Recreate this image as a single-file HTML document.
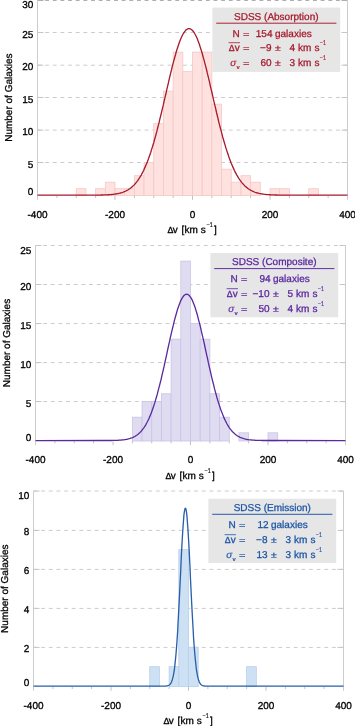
<!DOCTYPE html>
<html><head><meta charset="utf-8"><title>SDSS velocity offsets</title>
<style>html,body{margin:0;padding:0;background:#fff;}body{width:355px;height:726px;overflow:hidden;font-family:"Liberation Sans", sans-serif;}svg{display:block;will-change:transform;}</style>
</head><body>
<svg width="355" height="726" viewBox="0 0 355 726" font-family='"Liberation Sans", sans-serif' font-size="10" text-rendering="geometricPrecision">
<rect width="355" height="726" fill="#fff"/>
<g>
<line x1="37.50" y1="162.50" x2="347.50" y2="162.50" stroke="#cbcbcb" stroke-width="1" stroke-dasharray="3.827 3.827"/>
<line x1="37.50" y1="162.50" x2="43.50" y2="162.50" stroke="#c6c6c6" stroke-width="1"/>
<line x1="341.50" y1="162.50" x2="347.50" y2="162.50" stroke="#c6c6c6" stroke-width="1"/>
<line x1="37.50" y1="130.10" x2="347.50" y2="130.10" stroke="#cbcbcb" stroke-width="1" stroke-dasharray="3.827 3.827"/>
<line x1="37.50" y1="130.10" x2="43.50" y2="130.10" stroke="#c6c6c6" stroke-width="1"/>
<line x1="341.50" y1="130.10" x2="347.50" y2="130.10" stroke="#c6c6c6" stroke-width="1"/>
<line x1="37.50" y1="97.50" x2="347.50" y2="97.50" stroke="#cbcbcb" stroke-width="1" stroke-dasharray="3.827 3.827"/>
<line x1="37.50" y1="97.50" x2="43.50" y2="97.50" stroke="#c6c6c6" stroke-width="1"/>
<line x1="341.50" y1="97.50" x2="347.50" y2="97.50" stroke="#c6c6c6" stroke-width="1"/>
<line x1="37.50" y1="65.20" x2="347.50" y2="65.20" stroke="#cbcbcb" stroke-width="1" stroke-dasharray="3.827 3.827"/>
<line x1="37.50" y1="65.20" x2="43.50" y2="65.20" stroke="#c6c6c6" stroke-width="1"/>
<line x1="341.50" y1="65.20" x2="347.50" y2="65.20" stroke="#c6c6c6" stroke-width="1"/>
<line x1="37.50" y1="32.50" x2="347.50" y2="32.50" stroke="#cbcbcb" stroke-width="1" stroke-dasharray="3.827 3.827"/>
<line x1="37.50" y1="32.50" x2="43.50" y2="32.50" stroke="#c6c6c6" stroke-width="1"/>
<line x1="341.50" y1="32.50" x2="347.50" y2="32.50" stroke="#c6c6c6" stroke-width="1"/>
<line x1="37.50" y1="0.50" x2="347.50" y2="0.50" stroke="#aeaeae" stroke-width="1" stroke-dasharray="3.827 3.827"/>
<line x1="37.50" y1="0.50" x2="43.50" y2="0.50" stroke="#aeaeae" stroke-width="1"/>
<line x1="341.50" y1="0.50" x2="347.50" y2="0.50" stroke="#aeaeae" stroke-width="1"/>
<rect x="76.25" y="188.70" width="9.69" height="6.90" fill="#fee2df" stroke="#f7c6c6" stroke-width="0.8"/>
<rect x="95.62" y="188.70" width="9.69" height="6.90" fill="#fee2df" stroke="#f7c6c6" stroke-width="0.8"/>
<rect x="105.31" y="182.19" width="9.69" height="13.41" fill="#fee2df" stroke="#f7c6c6" stroke-width="0.8"/>
<rect x="115.00" y="188.70" width="9.69" height="6.90" fill="#fee2df" stroke="#f7c6c6" stroke-width="0.8"/>
<rect x="124.69" y="188.70" width="9.69" height="6.90" fill="#fee2df" stroke="#f7c6c6" stroke-width="0.8"/>
<rect x="134.38" y="175.69" width="9.69" height="19.91" fill="#fee2df" stroke="#f7c6c6" stroke-width="0.8"/>
<rect x="144.06" y="162.68" width="9.69" height="32.92" fill="#fee2df" stroke="#f7c6c6" stroke-width="0.8"/>
<rect x="153.75" y="123.66" width="9.69" height="71.94" fill="#fee2df" stroke="#f7c6c6" stroke-width="0.8"/>
<rect x="163.44" y="91.15" width="9.69" height="104.45" fill="#fee2df" stroke="#f7c6c6" stroke-width="0.8"/>
<rect x="173.12" y="52.13" width="9.69" height="143.47" fill="#fee2df" stroke="#f7c6c6" stroke-width="0.8"/>
<rect x="182.81" y="71.64" width="9.69" height="123.96" fill="#fee2df" stroke="#f7c6c6" stroke-width="0.8"/>
<rect x="192.50" y="52.13" width="9.69" height="143.47" fill="#fee2df" stroke="#f7c6c6" stroke-width="0.8"/>
<rect x="202.19" y="52.13" width="9.69" height="143.47" fill="#fee2df" stroke="#f7c6c6" stroke-width="0.8"/>
<rect x="211.88" y="104.15" width="9.69" height="91.45" fill="#fee2df" stroke="#f7c6c6" stroke-width="0.8"/>
<rect x="221.56" y="169.19" width="9.69" height="26.41" fill="#fee2df" stroke="#f7c6c6" stroke-width="0.8"/>
<rect x="231.25" y="182.19" width="9.69" height="13.41" fill="#fee2df" stroke="#f7c6c6" stroke-width="0.8"/>
<rect x="240.94" y="175.69" width="9.69" height="19.91" fill="#fee2df" stroke="#f7c6c6" stroke-width="0.8"/>
<rect x="250.62" y="182.19" width="9.69" height="13.41" fill="#fee2df" stroke="#f7c6c6" stroke-width="0.8"/>
<rect x="270.00" y="188.70" width="9.69" height="6.90" fill="#fee2df" stroke="#f7c6c6" stroke-width="0.8"/>
<rect x="279.69" y="188.70" width="9.69" height="6.90" fill="#fee2df" stroke="#f7c6c6" stroke-width="0.8"/>
<rect x="308.75" y="188.70" width="9.69" height="6.90" fill="#fee2df" stroke="#f7c6c6" stroke-width="0.8"/>
<g stroke="#cccccc" stroke-width="1">
<line x1="37.50" y1="0.10" x2="37.50" y2="199.80"/>
<line x1="347.50" y1="0.10" x2="347.50" y2="199.80"/>
<line x1="56.88" y1="195.80" x2="56.88" y2="198.00" stroke="#b2b2b2" stroke-width="0.8"/>
<line x1="76.25" y1="195.80" x2="76.25" y2="198.00" stroke="#b2b2b2" stroke-width="0.8"/>
<line x1="95.62" y1="195.80" x2="95.62" y2="198.00" stroke="#b2b2b2" stroke-width="0.8"/>
<line x1="115.00" y1="195.80" x2="115.00" y2="199.80" stroke="#b2b2b2" stroke-width="0.8"/>
<line x1="134.38" y1="195.80" x2="134.38" y2="198.00" stroke="#b2b2b2" stroke-width="0.8"/>
<line x1="153.75" y1="195.80" x2="153.75" y2="198.00" stroke="#b2b2b2" stroke-width="0.8"/>
<line x1="173.12" y1="195.80" x2="173.12" y2="198.00" stroke="#b2b2b2" stroke-width="0.8"/>
<line x1="192.50" y1="195.80" x2="192.50" y2="199.80" stroke="#b2b2b2" stroke-width="0.8"/>
<line x1="211.88" y1="195.80" x2="211.88" y2="198.00" stroke="#b2b2b2" stroke-width="0.8"/>
<line x1="231.25" y1="195.80" x2="231.25" y2="198.00" stroke="#b2b2b2" stroke-width="0.8"/>
<line x1="250.62" y1="195.80" x2="250.62" y2="198.00" stroke="#b2b2b2" stroke-width="0.8"/>
<line x1="270.00" y1="195.80" x2="270.00" y2="199.80" stroke="#b2b2b2" stroke-width="0.8"/>
<line x1="289.38" y1="195.80" x2="289.38" y2="198.00" stroke="#b2b2b2" stroke-width="0.8"/>
<line x1="308.75" y1="195.80" x2="308.75" y2="198.00" stroke="#b2b2b2" stroke-width="0.8"/>
<line x1="328.12" y1="195.80" x2="328.12" y2="198.00" stroke="#b2b2b2" stroke-width="0.8"/>
</g>
<polyline points="37.5,195.15 87.9,195.14 88.7,195.14 89.4,195.13 90.2,195.13 91.0,195.13 91.8,195.12 92.5,195.12 93.3,195.12 94.1,195.11 94.8,195.10 95.6,195.10 96.4,195.09 97.2,195.08 98.0,195.07 98.7,195.06 99.5,195.05 100.3,195.04 101.1,195.02 101.8,195.00 102.6,194.98 103.4,194.96 104.2,194.94 104.9,194.91 105.7,194.88 106.5,194.84 107.2,194.81 108.0,194.76 108.8,194.72 109.6,194.66 110.4,194.61 111.1,194.54 111.9,194.47 112.7,194.39 113.5,194.30 114.2,194.21 115.0,194.10 115.8,193.98 116.5,193.86 117.3,193.71 118.1,193.56 118.9,193.39 119.7,193.21 120.4,193.00 121.2,192.78 122.0,192.54 122.8,192.28 123.5,192.00 124.3,191.69 125.1,191.36 125.9,190.99 126.6,190.60 127.4,190.18 128.2,189.72 128.9,189.23 129.7,188.70 130.5,188.13 131.3,187.53 132.1,186.87 132.8,186.17 133.6,185.42 134.4,184.63 135.2,183.78 135.9,182.87 136.7,181.91 137.5,180.88 138.2,179.80 139.0,178.65 139.8,177.43 140.6,176.14 141.4,174.79 142.1,173.36 142.9,171.86 143.7,170.28 144.4,168.63 145.2,166.89 146.0,165.08 146.8,163.18 147.6,161.21 148.3,159.15 149.1,157.01 149.9,154.78 150.7,152.48 151.4,150.09 152.2,147.62 153.0,145.07 153.8,142.44 154.5,139.74 155.3,136.97 156.1,134.12 156.9,131.20 157.6,128.22 158.4,125.18 159.2,122.08 159.9,118.93 160.7,115.73 161.5,112.49 162.3,109.21 163.1,105.90 163.8,102.57 164.6,99.22 165.4,95.86 166.2,92.49 166.9,89.13 167.7,85.78 168.5,82.45 169.2,79.15 170.0,75.88 170.8,72.66 171.6,69.49 172.3,66.38 173.1,63.34 173.9,60.37 174.7,57.50 175.5,54.72 176.2,52.04 177.0,49.47 177.8,47.03 178.6,44.70 179.3,42.51 180.1,40.47 180.9,38.56 181.7,36.81 182.4,35.22 183.2,33.79 184.0,32.53 184.8,31.45 185.5,30.53 186.3,29.80 187.1,29.25 187.8,28.88 188.6,28.70 189.4,28.70 190.2,28.88 191.0,29.25 191.7,29.80 192.5,30.53 193.3,31.45 194.1,32.53 194.8,33.79 195.6,35.22 196.4,36.81 197.2,38.56 197.9,40.47 198.7,42.51 199.5,44.70 200.2,47.03 201.0,49.47 201.8,52.04 202.6,54.72 203.3,57.50 204.1,60.37 204.9,63.34 205.7,66.38 206.5,69.49 207.2,72.66 208.0,75.88 208.8,79.15 209.6,82.45 210.3,85.78 211.1,89.13 211.9,92.49 212.7,95.86 213.4,99.22 214.2,102.57 215.0,105.90 215.8,109.21 216.5,112.49 217.3,115.73 218.1,118.93 218.8,122.08 219.6,125.18 220.4,128.22 221.2,131.20 222.0,134.12 222.7,136.97 223.5,139.74 224.3,142.44 225.1,145.07 225.8,147.62 226.6,150.09 227.4,152.48 228.2,154.78 228.9,157.01 229.7,159.15 230.5,161.21 231.2,163.18 232.0,165.08 232.8,166.89 233.6,168.63 234.3,170.28 235.1,171.86 235.9,173.36 236.7,174.79 237.5,176.14 238.2,177.43 239.0,178.65 239.8,179.80 240.6,180.88 241.3,181.91 242.1,182.87 242.9,183.78 243.7,184.63 244.4,185.42 245.2,186.17 246.0,186.87 246.8,187.53 247.5,188.13 248.3,188.70 249.1,189.23 249.8,189.72 250.6,190.18 251.4,190.60 252.2,190.99 253.0,191.36 253.7,191.69 254.5,192.00 255.3,192.28 256.1,192.54 256.8,192.78 257.6,193.00 258.4,193.21 259.1,193.39 259.9,193.56 260.7,193.71 261.5,193.86 262.2,193.98 263.0,194.10 263.8,194.21 264.6,194.30 265.4,194.39 266.1,194.47 266.9,194.54 267.7,194.61 268.5,194.66 269.2,194.72 270.0,194.76 270.8,194.81 271.6,194.84 272.3,194.88 273.1,194.91 273.9,194.94 274.6,194.96 275.4,194.98 276.2,195.00 277.0,195.02 277.8,195.04 278.5,195.05 279.3,195.06 280.1,195.07 280.9,195.08 281.6,195.09 282.4,195.10 283.2,195.10 284.0,195.11 284.7,195.12 285.5,195.12 286.3,195.12 287.1,195.13 287.8,195.13 288.6,195.13 289.4,195.14 347.5,195.15" fill="none" stroke="#a61b2c" stroke-width="1.32" stroke-linejoin="round"/>
<g fill="#000" stroke="#000" stroke-width="0.3" font-size="10">
<text x="33.40" y="194.90" text-anchor="end">0</text>
<text x="33.40" y="167.68" text-anchor="end">5</text>
<text x="33.40" y="135.17" text-anchor="end">10</text>
<text x="33.40" y="102.65" text-anchor="end">15</text>
<text x="33.40" y="70.13" text-anchor="end">20</text>
<text x="33.40" y="37.62" text-anchor="end">25</text>
<text x="33.40" y="8.20" text-anchor="end">30</text>
<text x="37.50" y="218.10" text-anchor="middle">-400</text>
<text x="115.00" y="218.10" text-anchor="middle">-200</text>
<text x="192.50" y="218.10" text-anchor="middle">0</text>
<text x="270.00" y="218.10" text-anchor="middle">200</text>
<text x="347.50" y="218.10" text-anchor="middle">400</text>
<text x="167.50" y="233.00" font-size="8.8">Δ</text>
<text x="172.70" y="233.00">v</text>
<text x="181.50" y="233.00">[</text>
<text x="184.40" y="233.00">km</text>
<text x="200.70" y="233.00">s</text>
<text x="206.40" y="227.00" font-size="6.8" stroke-width="0.12" textLength="6.32" lengthAdjust="spacingAndGlyphs">−1</text>
<text x="213.90" y="233.00">]</text>
<text transform="translate(11.50,97.65) rotate(-90)" text-anchor="middle">Number of Galaxies</text>
</g>
<rect x="212.40" y="7.60" width="127.8" height="64.3" fill="#e6e6e6"/>
<g fill="#a51a2b" stroke="#a51a2b" stroke-width="0.27999999999999997">
<text x="276.30" y="19.80" text-anchor="middle">SDSS (Absorption)</text>
<line x1="216.20" y1="23.20" x2="336.40" y2="23.20" stroke-width="0.95"/>
<text x="239.70" y="37.00" text-anchor="end">N</text>
<text transform="translate(243.05,37.05) scale(1.1,0.78)">=</text>
<text x="272.50" y="37.00" text-anchor="end">154</text>
<text x="275.00" y="37.00">galaxies</text>
<text x="228.80" y="51.00" font-size="8.8">Δ</text>
<text x="234.80" y="51.00">v</text>
<line x1="228.60" y1="42.70" x2="240.00" y2="42.70" stroke-width="0.8"/>
<text transform="translate(243.05,51.05) scale(1.1,0.78)">=</text>
<text x="271.50" y="51.00" text-anchor="end">−9</text>
<text transform="translate(275.05,51.45) scale(1.04,0.88)">±</text>
<text x="295.00" y="51.00" text-anchor="end">4</text>
<text x="298.00" y="51.00">km</text><text x="314.40" y="51.00">s</text>
<text x="319.70" y="45.00" font-size="6.8" stroke-width="0.12" textLength="6.32" lengthAdjust="spacingAndGlyphs">−1</text>
<text x="236.40" y="66.00" text-anchor="end" font-style="italic" stroke-width="0.1">σ</text>
<text x="236.60" y="68.60" font-size="5.8" font-weight="bold" stroke-width="0.1">v</text>
<text transform="translate(243.05,66.05) scale(1.1,0.78)">=</text>
<text x="271.50" y="66.00" text-anchor="end">60</text>
<text transform="translate(275.05,66.45) scale(1.04,0.88)">±</text>
<text x="295.00" y="66.00" text-anchor="end">3</text>
<text x="298.00" y="66.00">km</text><text x="314.40" y="66.00">s</text>
<text x="319.70" y="60.00" font-size="6.8" stroke-width="0.12" textLength="6.32" lengthAdjust="spacingAndGlyphs">−1</text>
</g>
</g>
<g>
<line x1="35.50" y1="401.55" x2="345.50" y2="401.55" stroke="#cbcbcb" stroke-width="1" stroke-dasharray="3.827 3.827"/>
<line x1="35.50" y1="401.55" x2="41.50" y2="401.55" stroke="#c6c6c6" stroke-width="1"/>
<line x1="339.50" y1="401.55" x2="345.50" y2="401.55" stroke="#c6c6c6" stroke-width="1"/>
<line x1="35.50" y1="362.60" x2="345.50" y2="362.60" stroke="#cbcbcb" stroke-width="1" stroke-dasharray="3.827 3.827"/>
<line x1="35.50" y1="362.60" x2="41.50" y2="362.60" stroke="#c6c6c6" stroke-width="1"/>
<line x1="339.50" y1="362.60" x2="345.50" y2="362.60" stroke="#c6c6c6" stroke-width="1"/>
<line x1="35.50" y1="323.55" x2="345.50" y2="323.55" stroke="#cbcbcb" stroke-width="1" stroke-dasharray="3.827 3.827"/>
<line x1="35.50" y1="323.55" x2="41.50" y2="323.55" stroke="#c6c6c6" stroke-width="1"/>
<line x1="339.50" y1="323.55" x2="345.50" y2="323.55" stroke="#c6c6c6" stroke-width="1"/>
<line x1="35.50" y1="284.50" x2="345.50" y2="284.50" stroke="#cbcbcb" stroke-width="1" stroke-dasharray="3.827 3.827"/>
<line x1="35.50" y1="284.50" x2="41.50" y2="284.50" stroke="#c6c6c6" stroke-width="1"/>
<line x1="339.50" y1="284.50" x2="345.50" y2="284.50" stroke="#c6c6c6" stroke-width="1"/>
<line x1="35.50" y1="245.50" x2="345.50" y2="245.50" stroke="#cbcbcb" stroke-width="1" stroke-dasharray="3.827 3.827"/>
<line x1="35.50" y1="245.50" x2="41.50" y2="245.50" stroke="#c6c6c6" stroke-width="1"/>
<line x1="339.50" y1="245.50" x2="345.50" y2="245.50" stroke="#c6c6c6" stroke-width="1"/>
<rect x="132.38" y="417.19" width="9.69" height="23.81" fill="#dfdcf1" stroke="#c9c4e6" stroke-width="0.8"/>
<rect x="142.06" y="401.58" width="9.69" height="39.42" fill="#dfdcf1" stroke="#c9c4e6" stroke-width="0.8"/>
<rect x="151.75" y="401.58" width="9.69" height="39.42" fill="#dfdcf1" stroke="#c9c4e6" stroke-width="0.8"/>
<rect x="161.44" y="393.78" width="9.69" height="47.22" fill="#dfdcf1" stroke="#c9c4e6" stroke-width="0.8"/>
<rect x="171.12" y="339.15" width="9.69" height="101.85" fill="#dfdcf1" stroke="#c9c4e6" stroke-width="0.8"/>
<rect x="180.81" y="261.11" width="9.69" height="179.89" fill="#dfdcf1" stroke="#c9c4e6" stroke-width="0.8"/>
<rect x="190.50" y="323.54" width="9.69" height="117.46" fill="#dfdcf1" stroke="#c9c4e6" stroke-width="0.8"/>
<rect x="200.19" y="339.15" width="9.69" height="101.85" fill="#dfdcf1" stroke="#c9c4e6" stroke-width="0.8"/>
<rect x="209.88" y="393.78" width="9.69" height="47.22" fill="#dfdcf1" stroke="#c9c4e6" stroke-width="0.8"/>
<rect x="219.56" y="417.19" width="9.69" height="23.81" fill="#dfdcf1" stroke="#c9c4e6" stroke-width="0.8"/>
<rect x="238.94" y="432.80" width="9.69" height="8.20" fill="#dfdcf1" stroke="#c9c4e6" stroke-width="0.8"/>
<rect x="268.00" y="432.80" width="9.69" height="8.20" fill="#dfdcf1" stroke="#c9c4e6" stroke-width="0.8"/>
<g stroke="#cccccc" stroke-width="1">
<line x1="35.50" y1="245.50" x2="35.50" y2="445.20"/>
<line x1="345.50" y1="245.50" x2="345.50" y2="445.20"/>
<line x1="54.88" y1="441.20" x2="54.88" y2="443.40" stroke="#b2b2b2" stroke-width="0.8"/>
<line x1="74.25" y1="441.20" x2="74.25" y2="443.40" stroke="#b2b2b2" stroke-width="0.8"/>
<line x1="93.62" y1="441.20" x2="93.62" y2="443.40" stroke="#b2b2b2" stroke-width="0.8"/>
<line x1="113.00" y1="441.20" x2="113.00" y2="445.20" stroke="#b2b2b2" stroke-width="0.8"/>
<line x1="132.38" y1="441.20" x2="132.38" y2="443.40" stroke="#b2b2b2" stroke-width="0.8"/>
<line x1="151.75" y1="441.20" x2="151.75" y2="443.40" stroke="#b2b2b2" stroke-width="0.8"/>
<line x1="171.12" y1="441.20" x2="171.12" y2="443.40" stroke="#b2b2b2" stroke-width="0.8"/>
<line x1="190.50" y1="441.20" x2="190.50" y2="445.20" stroke="#b2b2b2" stroke-width="0.8"/>
<line x1="209.88" y1="441.20" x2="209.88" y2="443.40" stroke="#b2b2b2" stroke-width="0.8"/>
<line x1="229.25" y1="441.20" x2="229.25" y2="443.40" stroke="#b2b2b2" stroke-width="0.8"/>
<line x1="248.62" y1="441.20" x2="248.62" y2="443.40" stroke="#b2b2b2" stroke-width="0.8"/>
<line x1="268.00" y1="441.20" x2="268.00" y2="445.20" stroke="#b2b2b2" stroke-width="0.8"/>
<line x1="287.38" y1="441.20" x2="287.38" y2="443.40" stroke="#b2b2b2" stroke-width="0.8"/>
<line x1="306.75" y1="441.20" x2="306.75" y2="443.40" stroke="#b2b2b2" stroke-width="0.8"/>
<line x1="326.12" y1="441.20" x2="326.12" y2="443.40" stroke="#b2b2b2" stroke-width="0.8"/>
</g>
<polyline points="35.5,440.55 103.7,440.53 104.5,440.53 105.2,440.53 106.0,440.52 106.8,440.52 107.6,440.51 108.4,440.51 109.1,440.50 109.9,440.49 110.7,440.48 111.5,440.47 112.2,440.46 113.0,440.44 113.8,440.43 114.5,440.41 115.3,440.38 116.1,440.36 116.9,440.33 117.7,440.29 118.4,440.25 119.2,440.21 120.0,440.16 120.8,440.10 121.5,440.03 122.3,439.96 123.1,439.88 123.9,439.78 124.6,439.68 125.4,439.56 126.2,439.42 127.0,439.28 127.7,439.11 128.5,438.92 129.3,438.72 130.1,438.49 130.8,438.24 131.6,437.96 132.4,437.65 133.2,437.31 133.9,436.93 134.7,436.52 135.5,436.06 136.2,435.57 137.0,435.03 137.8,434.44 138.6,433.79 139.4,433.09 140.1,432.34 140.9,431.52 141.7,430.63 142.4,429.67 143.2,428.64 144.0,427.54 144.8,426.35 145.6,425.08 146.3,423.73 147.1,422.28 147.9,420.75 148.7,419.11 149.4,417.38 150.2,415.56 151.0,413.63 151.8,411.59 152.5,409.46 153.3,407.21 154.1,404.87 154.9,402.42 155.6,399.87 156.4,397.21 157.2,394.46 157.9,391.61 158.7,388.66 159.5,385.63 160.3,382.52 161.1,379.32 161.8,376.05 162.6,372.72 163.4,369.32 164.2,365.88 164.9,362.40 165.7,358.88 166.5,355.35 167.2,351.80 168.0,348.25 168.8,344.71 169.6,341.20 170.3,337.72 171.1,334.29 171.9,330.93 172.7,327.63 173.5,324.43 174.2,321.32 175.0,318.33 175.8,315.46 176.6,312.73 177.3,310.14 178.1,307.72 178.9,305.47 179.7,303.40 180.4,301.53 181.2,299.85 182.0,298.38 182.8,297.12 183.5,296.08 184.3,295.27 185.1,294.69 185.8,294.34 186.6,294.22 187.4,294.34 188.2,294.69 189.0,295.27 189.7,296.08 190.5,297.12 191.3,298.38 192.1,299.85 192.8,301.53 193.6,303.40 194.4,305.47 195.2,307.72 195.9,310.14 196.7,312.73 197.5,315.46 198.2,318.33 199.0,321.32 199.8,324.43 200.6,327.63 201.3,330.93 202.1,334.29 202.9,337.72 203.7,341.20 204.5,344.71 205.2,348.25 206.0,351.80 206.8,355.35 207.6,358.88 208.3,362.40 209.1,365.88 209.9,369.32 210.7,372.72 211.4,376.05 212.2,379.32 213.0,382.52 213.8,385.63 214.5,388.66 215.3,391.61 216.1,394.46 216.8,397.21 217.6,399.87 218.4,402.42 219.2,404.87 220.0,407.21 220.7,409.46 221.5,411.59 222.3,413.63 223.1,415.56 223.8,417.38 224.6,419.11 225.4,420.75 226.2,422.28 226.9,423.73 227.7,425.08 228.5,426.35 229.2,427.54 230.0,428.64 230.8,429.67 231.6,430.63 232.3,431.52 233.1,432.34 233.9,433.09 234.7,433.79 235.5,434.44 236.2,435.03 237.0,435.57 237.8,436.06 238.6,436.52 239.3,436.93 240.1,437.31 240.9,437.65 241.7,437.96 242.4,438.24 243.2,438.49 244.0,438.72 244.8,438.92 245.5,439.11 246.3,439.28 247.1,439.42 247.8,439.56 248.6,439.68 249.4,439.78 250.2,439.88 251.0,439.96 251.7,440.03 252.5,440.10 253.3,440.16 254.1,440.21 254.8,440.25 255.6,440.29 256.4,440.33 257.1,440.36 257.9,440.38 258.7,440.41 259.5,440.43 260.2,440.44 261.0,440.46 261.8,440.47 262.6,440.48 263.4,440.49 264.1,440.50 264.9,440.51 265.7,440.51 266.5,440.52 267.2,440.52 268.0,440.53 268.8,440.53 345.5,440.55" fill="none" stroke="#5a2a9c" stroke-width="1.32" stroke-linejoin="round"/>
<g fill="#000" stroke="#000" stroke-width="0.3" font-size="10">
<text x="31.40" y="441.10" text-anchor="end">0</text>
<text x="31.40" y="406.58" text-anchor="end">5</text>
<text x="31.40" y="367.56" text-anchor="end">10</text>
<text x="31.40" y="328.54" text-anchor="end">15</text>
<text x="31.40" y="289.52" text-anchor="end">20</text>
<text x="31.40" y="253.60" text-anchor="end">25</text>
<text x="35.50" y="463.10" text-anchor="middle">-400</text>
<text x="113.00" y="463.10" text-anchor="middle">-200</text>
<text x="190.50" y="463.10" text-anchor="middle">0</text>
<text x="268.00" y="463.10" text-anchor="middle">200</text>
<text x="345.50" y="463.10" text-anchor="middle">400</text>
<text x="165.50" y="479.00" font-size="8.8">Δ</text>
<text x="170.70" y="479.00">v</text>
<text x="179.50" y="479.00">[</text>
<text x="182.40" y="479.00">km</text>
<text x="198.70" y="479.00">s</text>
<text x="204.40" y="473.00" font-size="6.8" stroke-width="0.12" textLength="6.32" lengthAdjust="spacingAndGlyphs">−1</text>
<text x="211.90" y="479.00">]</text>
<text transform="translate(9.50,343.05) rotate(-90)" text-anchor="middle">Number of Galaxies</text>
</g>
<rect x="210.40" y="253.00" width="127.8" height="64.3" fill="#e6e6e6"/>
<g fill="#5b25a0" stroke="#5b25a0" stroke-width="0.27999999999999997">
<text x="274.30" y="265.20" text-anchor="middle">SDSS (Composite)</text>
<line x1="214.20" y1="268.60" x2="334.40" y2="268.60" stroke-width="0.95"/>
<text x="237.70" y="282.00" text-anchor="end">N</text>
<text transform="translate(241.05,282.05) scale(1.1,0.78)">=</text>
<text x="270.50" y="282.00" text-anchor="end">94</text>
<text x="273.00" y="282.00">galaxies</text>
<text x="226.80" y="297.00" font-size="8.8">Δ</text>
<text x="232.80" y="297.00">v</text>
<line x1="226.60" y1="288.70" x2="238.00" y2="288.70" stroke-width="0.8"/>
<text transform="translate(241.05,297.05) scale(1.1,0.78)">=</text>
<text x="269.50" y="297.00" text-anchor="end">−10</text>
<text transform="translate(273.05,297.45) scale(1.04,0.88)">±</text>
<text x="293.00" y="297.00" text-anchor="end">5</text>
<text x="296.00" y="297.00">km</text><text x="312.40" y="297.00">s</text>
<text x="317.70" y="291.00" font-size="6.8" stroke-width="0.12" textLength="6.32" lengthAdjust="spacingAndGlyphs">−1</text>
<text x="234.40" y="312.00" text-anchor="end" font-style="italic" stroke-width="0.1">σ</text>
<text x="234.60" y="314.60" font-size="5.8" font-weight="bold" stroke-width="0.1">v</text>
<text transform="translate(241.05,312.05) scale(1.1,0.78)">=</text>
<text x="269.50" y="312.00" text-anchor="end">50</text>
<text transform="translate(273.05,312.45) scale(1.04,0.88)">±</text>
<text x="293.00" y="312.00" text-anchor="end">4</text>
<text x="296.00" y="312.00">km</text><text x="312.40" y="312.00">s</text>
<text x="317.70" y="306.00" font-size="6.8" stroke-width="0.12" textLength="6.32" lengthAdjust="spacingAndGlyphs">−1</text>
</g>
</g>
<g>
<line x1="33.50" y1="647.40" x2="343.50" y2="647.40" stroke="#cbcbcb" stroke-width="1" stroke-dasharray="3.827 3.827"/>
<line x1="33.50" y1="647.40" x2="39.50" y2="647.40" stroke="#c6c6c6" stroke-width="1"/>
<line x1="337.50" y1="647.40" x2="343.50" y2="647.40" stroke="#c6c6c6" stroke-width="1"/>
<line x1="33.50" y1="608.40" x2="343.50" y2="608.40" stroke="#cbcbcb" stroke-width="1" stroke-dasharray="3.827 3.827"/>
<line x1="33.50" y1="608.40" x2="39.50" y2="608.40" stroke="#c6c6c6" stroke-width="1"/>
<line x1="337.50" y1="608.40" x2="343.50" y2="608.40" stroke="#c6c6c6" stroke-width="1"/>
<line x1="33.50" y1="569.40" x2="343.50" y2="569.40" stroke="#cbcbcb" stroke-width="1" stroke-dasharray="3.827 3.827"/>
<line x1="33.50" y1="569.40" x2="39.50" y2="569.40" stroke="#c6c6c6" stroke-width="1"/>
<line x1="337.50" y1="569.40" x2="343.50" y2="569.40" stroke="#c6c6c6" stroke-width="1"/>
<line x1="33.50" y1="530.40" x2="343.50" y2="530.40" stroke="#cbcbcb" stroke-width="1" stroke-dasharray="3.827 3.827"/>
<line x1="33.50" y1="530.40" x2="39.50" y2="530.40" stroke="#c6c6c6" stroke-width="1"/>
<line x1="337.50" y1="530.40" x2="343.50" y2="530.40" stroke="#c6c6c6" stroke-width="1"/>
<line x1="33.50" y1="491.05" x2="343.50" y2="491.05" stroke="#cbcbcb" stroke-width="1" stroke-dasharray="3.827 3.827"/>
<line x1="33.50" y1="491.05" x2="39.50" y2="491.05" stroke="#c6c6c6" stroke-width="1"/>
<line x1="337.50" y1="491.05" x2="343.50" y2="491.05" stroke="#c6c6c6" stroke-width="1"/>
<rect x="149.75" y="666.70" width="9.69" height="19.90" fill="#cee1f4" stroke="#b6d0ec" stroke-width="0.8"/>
<rect x="169.12" y="666.70" width="9.69" height="19.90" fill="#cee1f4" stroke="#b6d0ec" stroke-width="0.8"/>
<rect x="178.81" y="549.70" width="9.69" height="136.90" fill="#cee1f4" stroke="#b6d0ec" stroke-width="0.8"/>
<rect x="188.50" y="647.20" width="9.69" height="39.40" fill="#cee1f4" stroke="#b6d0ec" stroke-width="0.8"/>
<rect x="246.62" y="666.70" width="9.69" height="19.90" fill="#cee1f4" stroke="#b6d0ec" stroke-width="0.8"/>
<g stroke="#cccccc" stroke-width="1">
<line x1="33.50" y1="491.20" x2="33.50" y2="690.80"/>
<line x1="343.50" y1="491.20" x2="343.50" y2="690.80"/>
<line x1="52.88" y1="686.80" x2="52.88" y2="689.00" stroke="#b2b2b2" stroke-width="0.8"/>
<line x1="72.25" y1="686.80" x2="72.25" y2="689.00" stroke="#b2b2b2" stroke-width="0.8"/>
<line x1="91.62" y1="686.80" x2="91.62" y2="689.00" stroke="#b2b2b2" stroke-width="0.8"/>
<line x1="111.00" y1="686.80" x2="111.00" y2="690.80" stroke="#b2b2b2" stroke-width="0.8"/>
<line x1="130.38" y1="686.80" x2="130.38" y2="689.00" stroke="#b2b2b2" stroke-width="0.8"/>
<line x1="149.75" y1="686.80" x2="149.75" y2="689.00" stroke="#b2b2b2" stroke-width="0.8"/>
<line x1="169.12" y1="686.80" x2="169.12" y2="689.00" stroke="#b2b2b2" stroke-width="0.8"/>
<line x1="188.50" y1="686.80" x2="188.50" y2="690.80" stroke="#b2b2b2" stroke-width="0.8"/>
<line x1="207.88" y1="686.80" x2="207.88" y2="689.00" stroke="#b2b2b2" stroke-width="0.8"/>
<line x1="227.25" y1="686.80" x2="227.25" y2="689.00" stroke="#b2b2b2" stroke-width="0.8"/>
<line x1="246.62" y1="686.80" x2="246.62" y2="689.00" stroke="#b2b2b2" stroke-width="0.8"/>
<line x1="266.00" y1="686.80" x2="266.00" y2="690.80" stroke="#b2b2b2" stroke-width="0.8"/>
<line x1="285.38" y1="686.80" x2="285.38" y2="689.00" stroke="#b2b2b2" stroke-width="0.8"/>
<line x1="304.75" y1="686.80" x2="304.75" y2="689.00" stroke="#b2b2b2" stroke-width="0.8"/>
<line x1="324.12" y1="686.80" x2="324.12" y2="689.00" stroke="#b2b2b2" stroke-width="0.8"/>
</g>
<polyline points="33.5,686.15 164.5,686.11 164.9,686.10 165.2,686.08 165.6,686.06 166.0,686.03 166.4,685.98 166.8,685.93 167.2,685.86 167.6,685.77 168.0,685.65 168.3,685.51 168.7,685.32 169.1,685.09 169.5,684.80 169.9,684.44 170.3,684.01 170.7,683.47 171.1,682.81 171.5,682.03 171.8,681.08 172.2,679.96 172.6,678.63 173.0,677.06 173.4,675.24 173.8,673.12 174.2,670.69 174.6,667.91 174.9,664.75 175.3,661.18 175.7,657.20 176.1,652.77 176.5,647.89 176.9,642.54 177.3,636.74 177.7,630.49 178.0,623.82 178.4,616.74 178.8,609.31 179.2,601.59 179.6,593.62 180.0,585.49 180.4,577.27 180.8,569.07 181.1,560.98 181.5,553.11 181.9,545.56 182.3,538.44 182.7,531.87 183.1,525.93 183.5,520.73 183.8,516.35 184.2,512.86 184.6,510.32 185.0,508.78 185.4,508.27 185.8,508.78 186.2,510.32 186.6,512.86 187.0,516.35 187.3,520.73 187.7,525.93 188.1,531.87 188.5,538.44 188.9,545.56 189.3,553.11 189.7,560.98 190.1,569.07 190.4,577.27 190.8,585.49 191.2,593.62 191.6,601.59 192.0,609.31 192.4,616.74 192.8,623.82 193.2,630.49 193.5,636.74 193.9,642.54 194.3,647.89 194.7,652.77 195.1,657.20 195.5,661.18 195.9,664.75 196.2,667.91 196.6,670.69 197.0,673.12 197.4,675.24 197.8,677.06 198.2,678.63 198.6,679.96 199.0,681.08 199.3,682.03 199.7,682.81 200.1,683.47 200.5,684.01 200.9,684.44 201.3,684.80 201.7,685.09 202.1,685.32 202.5,685.51 202.8,685.65 203.2,685.77 203.6,685.86 204.0,685.93 204.4,685.98 204.8,686.03 205.2,686.06 205.6,686.08 205.9,686.10 343.5,686.15" fill="none" stroke="#285fa8" stroke-width="1.32" stroke-linejoin="round"/>
<g fill="#000" stroke="#000" stroke-width="0.3" font-size="10">
<text x="29.40" y="686.20" text-anchor="end">0</text>
<text x="29.40" y="652.20" text-anchor="end">2</text>
<text x="29.40" y="613.20" text-anchor="end">4</text>
<text x="29.40" y="574.20" text-anchor="end">6</text>
<text x="29.40" y="535.20" text-anchor="end">8</text>
<text x="29.40" y="499.30" text-anchor="end">10</text>
<text x="33.50" y="709.10" text-anchor="middle">-400</text>
<text x="111.00" y="709.10" text-anchor="middle">-200</text>
<text x="188.50" y="709.10" text-anchor="middle">0</text>
<text x="266.00" y="709.10" text-anchor="middle">200</text>
<text x="343.50" y="709.10" text-anchor="middle">400</text>
<text x="163.50" y="724.00" font-size="8.8">Δ</text>
<text x="168.70" y="724.00">v</text>
<text x="177.50" y="724.00">[</text>
<text x="180.40" y="724.00">km</text>
<text x="196.70" y="724.00">s</text>
<text x="202.40" y="718.00" font-size="6.8" stroke-width="0.12" textLength="6.32" lengthAdjust="spacingAndGlyphs">−1</text>
<text x="209.90" y="724.00">]</text>
<text transform="translate(7.50,588.70) rotate(-90)" text-anchor="middle">Number of Galaxies</text>
</g>
<rect x="208.40" y="498.70" width="127.8" height="64.3" fill="#e6e6e6"/>
<g fill="#1c55a5" stroke="#1c55a5" stroke-width="0.27999999999999997">
<text x="272.30" y="510.90" text-anchor="middle">SDSS (Emission)</text>
<line x1="212.20" y1="514.30" x2="332.40" y2="514.30" stroke-width="0.95"/>
<text x="235.70" y="528.00" text-anchor="end">N</text>
<text transform="translate(239.05,528.05) scale(1.1,0.78)">=</text>
<text x="268.50" y="528.00" text-anchor="end">12</text>
<text x="271.00" y="528.00">galaxies</text>
<text x="224.80" y="543.00" font-size="8.8">Δ</text>
<text x="230.80" y="543.00">v</text>
<line x1="224.60" y1="534.70" x2="236.00" y2="534.70" stroke-width="0.8"/>
<text transform="translate(239.05,543.05) scale(1.1,0.78)">=</text>
<text x="267.50" y="543.00" text-anchor="end">−8</text>
<text transform="translate(271.05,543.45) scale(1.04,0.88)">±</text>
<text x="291.00" y="543.00" text-anchor="end">3</text>
<text x="294.00" y="543.00">km</text><text x="310.40" y="543.00">s</text>
<text x="315.70" y="537.00" font-size="6.8" stroke-width="0.12" textLength="6.32" lengthAdjust="spacingAndGlyphs">−1</text>
<text x="232.40" y="558.00" text-anchor="end" font-style="italic" stroke-width="0.1">σ</text>
<text x="232.60" y="560.60" font-size="5.8" font-weight="bold" stroke-width="0.1">v</text>
<text transform="translate(239.05,558.05) scale(1.1,0.78)">=</text>
<text x="267.50" y="558.00" text-anchor="end">13</text>
<text transform="translate(271.05,558.45) scale(1.04,0.88)">±</text>
<text x="291.00" y="558.00" text-anchor="end">3</text>
<text x="294.00" y="558.00">km</text><text x="310.40" y="558.00">s</text>
<text x="315.70" y="552.00" font-size="6.8" stroke-width="0.12" textLength="6.32" lengthAdjust="spacingAndGlyphs">−1</text>
</g>
</g>
</svg>
</body></html>
